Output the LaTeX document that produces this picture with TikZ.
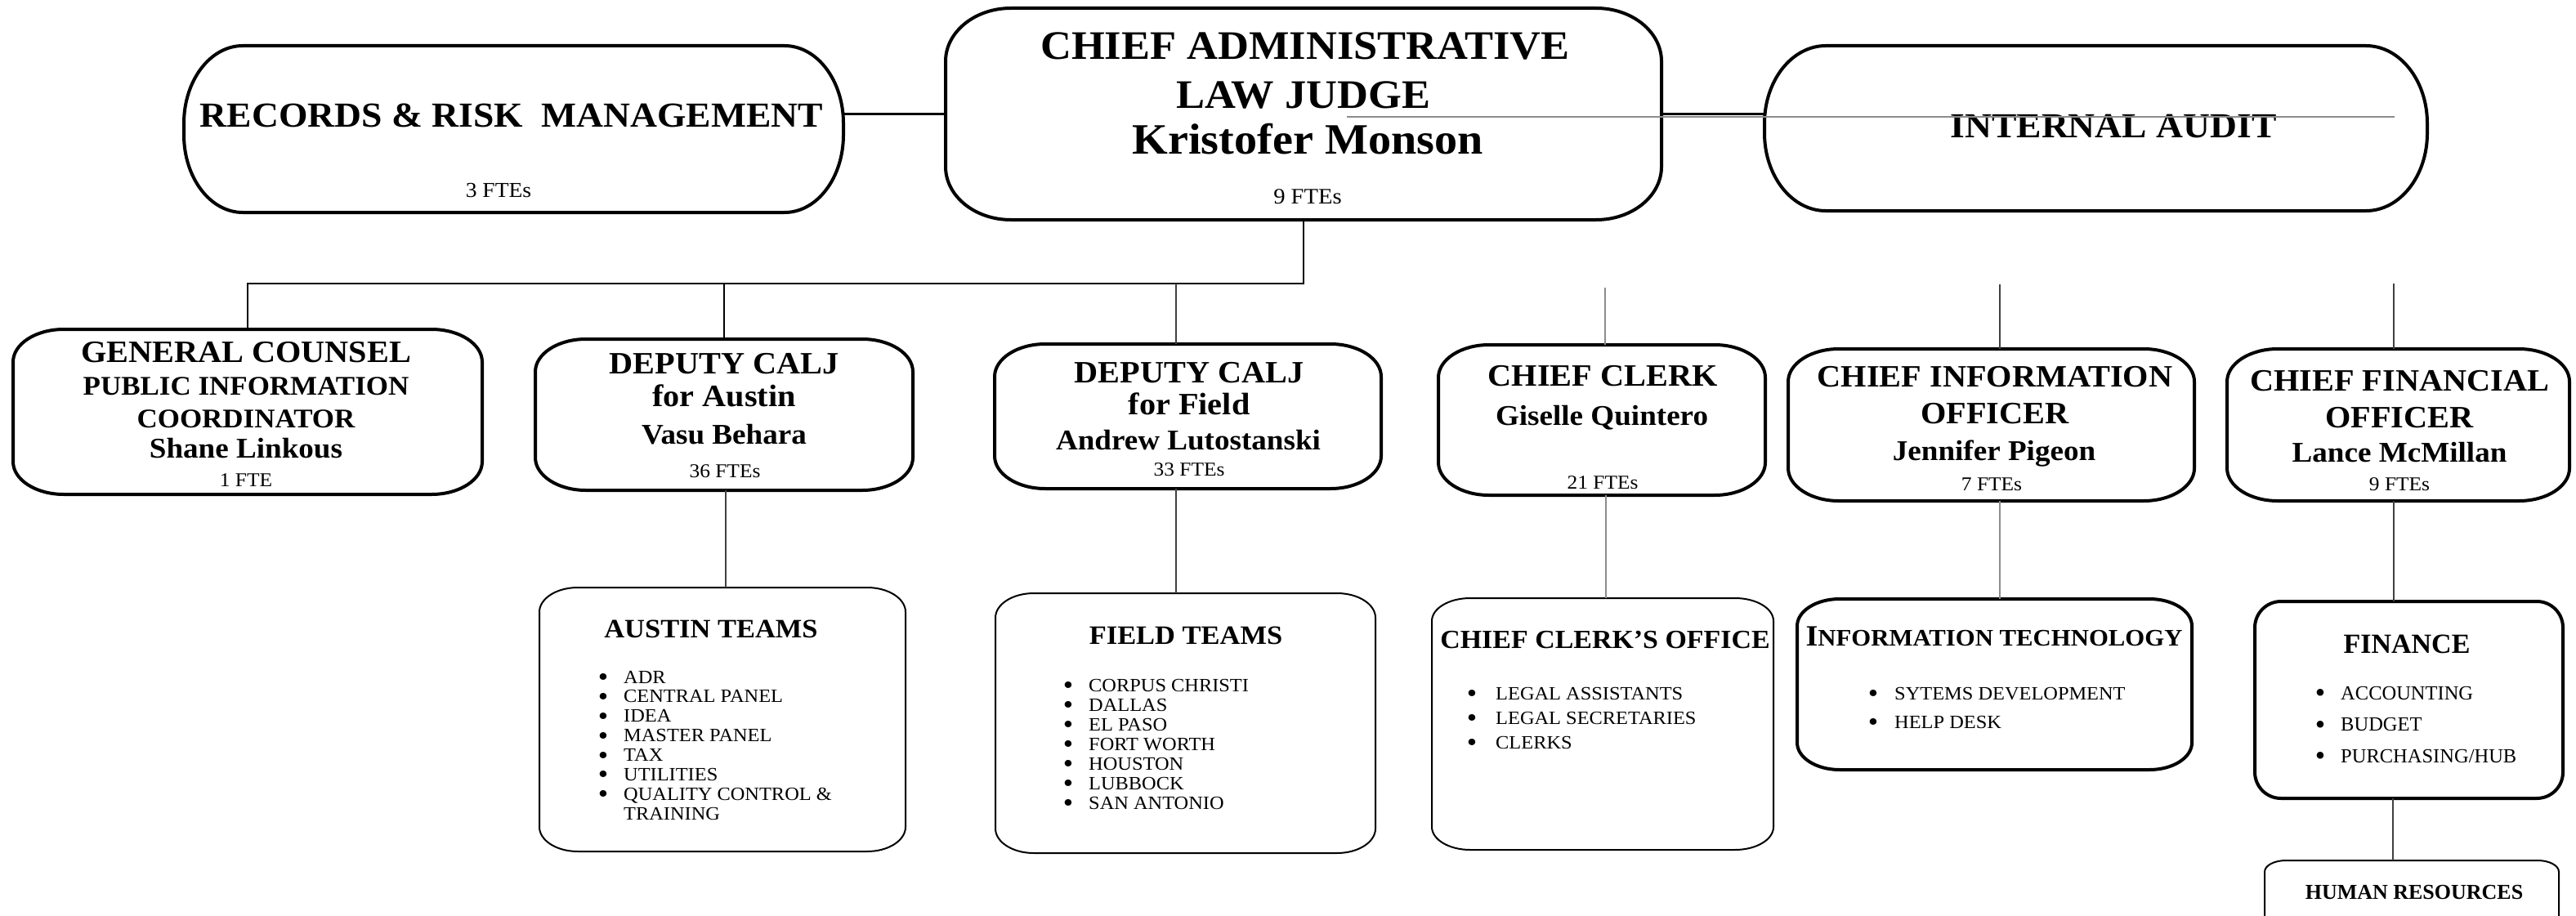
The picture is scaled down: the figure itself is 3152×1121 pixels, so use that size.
\documentclass[tikz,border=0pt]{standalone}
\usepackage{graphicx}
\usepackage{fontspec}
\setmainfont{Liberation Serif}[FakeStretch=1.06]
\newfontfamily\plainserif{Liberation Serif}
\newcommand\setfs[1]{\fontsize{#1}{#1}\selectfont}
% a slightly enlarged list bullet
\newcommand\bigdot{\raisebox{-0.15em}{\scalebox{1.45}{\textbullet}}}
% outline of a box with elliptical corners around an (invisible) node
\newcommand\boxoutline[4][]{%
  \draw[#1] ([xshift=#3pt]#2.north west) -- ([xshift=-#3pt]#2.north east)
    arc[start angle=90,end angle=0,x radius=#3pt,y radius=#4pt]
    -- ([yshift=#4pt]#2.south east)
    arc[start angle=0,end angle=-90,x radius=#3pt,y radius=#4pt]
    -- ([xshift=#3pt]#2.south west)
    arc[start angle=-90,end angle=-180,x radius=#3pt,y radius=#4pt]
    -- ([yshift=-#4pt]#2.north west)
    arc[start angle=180,end angle=90,x radius=#3pt,y radius=#4pt] -- cycle;}
\tikzset{
  box/.style={inner sep=0pt, outer sep=0pt, draw=none},
  heavy/.style={line width=4pt, black},
  light/.style={line width=2pt, black},
  tree/.style={line width=2.6pt, black},
  faint/.style={line width=1.2pt, black!75},
  hair/.style={line width=1.2pt, black!45},
  hd/.style={inner sep=0pt, anchor=base, font=\bfseries\setfs{#1}},
  rg/.style={inner sep=0pt, anchor=base, font=\setfs{#1}},
  item/.style={inner sep=0pt, anchor=base west, font=\setfs{#1},
    text height=0.68em, text depth=0.05em},
}
\begin{document}
\begin{tikzpicture}[x=1pt, y=-1pt]
\fill[white] (0,0) rectangle (3152,1121);
\clip (0,0) rectangle (3152,1121);

% ---------- top row ----------
\node[box, minimum width=807pt, minimum height=204pt] (rrm)  at (628.5,158) {};
\node[box, minimum width=876pt, minimum height=259pt] (calj) at (1595,139.5) {};
\node[box, minimum width=811pt, minimum height=202pt] (ia)   at (2564.5,157) {};
\boxoutline[heavy]{rrm}{72}{95}
\boxoutline[heavy]{calj}{80}{65}
\boxoutline[heavy]{ia}{75}{95}

\node[hd=43] (rrm-t) at (626,155) {RECORDS \& RISK\ \ MANAGEMENT};
\node[rg=26] (rrm-f) at (610,241) {3 FTEs};
\node[hd=49.5] (calj-t1) at (1597,73) {CHIEF ADMINISTRATIVE};
\node[hd=49.5] (calj-t2) at (1595,132) {LAW JUDGE};
\node[hd=53] (calj-t3) at (1600,188) {Kristofer Monson};
\node[rg=27] (calj-f) at (1600,249) {9 FTEs};
\node[hd=43] (ia-t) at (2586,168) {INTERNAL AUDIT};

\draw[tree] (rrm.east |- calj.west) -- (calj.west);
\draw[tree] (calj.east) -- (calj.east -| ia.west);
\coordinate (g1) at (1648,143);
\coordinate (g2) at (2930,143);
\draw[hair] (g1) -- (g2);

% ---------- second row ----------
\node[box, minimum width=574pt, minimum height=202pt] (gc)     at (303,504) {};
\node[box, minimum width=462pt, minimum height=185pt] (austin) at (886,507.5) {};
\node[box, minimum width=473pt, minimum height=177pt] (field)  at (1453.5,509.5) {};
\node[box, minimum width=400pt, minimum height=184pt] (clerk)  at (1960,514) {};
\node[box, minimum width=497pt, minimum height=186pt] (cio)    at (2436.5,520) {};
\node[box, minimum width=419pt, minimum height=186pt] (cfo)    at (2934.5,520) {};
\foreach \n in {gc,austin,field,clerk,cio,cfo} {\boxoutline[heavy]{\n}{62}{40}}

\node[hd=38] (gc-t1) at (301,443) {GENERAL COUNSEL};
\node[hd=33] (gc-t2) at (301,483) {PUBLIC INFORMATION};
\node[hd=33] (gc-t3) at (301,523) {COORDINATOR};
\node[hd=35] (gc-t4) at (301,560) {Shane Linkous};
\node[rg=24] (gc-f)  at (301,595) {1 FTE};

\node[hd=38] (au-t1) at (886,457) {DEPUTY CALJ};
\node[hd=38] (au-t2) at (886,497) {for Austin};
\node[hd=35] (au-t3) at (886,543) {Vasu Behara};
\node[rg=24] (au-f)  at (887,584) {36 FTEs};

\node[hd=38] (fi-t1) at (1455,468) {DEPUTY CALJ};
\node[hd=38] (fi-t2) at (1455,507) {for Field};
\node[hd=35] (fi-t3) at (1454,550) {Andrew Lutostanski};
\node[rg=24] (fi-f)  at (1455,582) {33 FTEs};

\node[hd=38] (cl-t1) at (1961,472) {CHIEF CLERK};
\node[hd=35] (cl-t2) at (1960,520) {Giselle Quintero};
\node[rg=24] (cl-f)  at (1961,598) {21 FTEs};

\node[hd=38] (ci-t1) at (2441,473) {CHIEF INFORMATION};
\node[hd=38] (ci-t2) at (2441,518) {OFFICER};
\node[hd=35] (ci-t3) at (2440,563) {Jennifer Pigeon};
\node[rg=24] (ci-f)  at (2437,600) {7 FTEs};

\node[hd=38] (cf-t1) at (2936,478) {CHIEF FINANCIAL};
\node[hd=38] (cf-t2) at (2936,523) {OFFICER};
\node[hd=35] (cf-t3) at (2936,565) {Lance McMillan};
\node[rg=24] (cf-f)  at (2936,600) {9 FTEs};

% reporting lines from the chief judge
\coordinate (bus) at (0,347);
\draw[tree] (calj.south) -- (calj.south |- bus) -| (gc.north);
\draw[tree] (austin.north |- bus) -- (austin.north);
\coordinate (xf) at (1439,347);
\draw[faint] (xf) -- (xf |- field.north);
\coordinate (xc) at (1964,352);
\draw[hair] (xc) -- (xc |- clerk.north);
\coordinate (xi) at (2447,348);
\draw[faint] (xi) -- (xi |- cio.north);
\coordinate (xo) at (2929,347);
\draw[faint] (xo) -- (xo |- cfo.north);

% ---------- third row ----------
\node[box, minimum width=448pt, minimum height=323pt] (ateams)  at (884,880.5) {};
\node[box, minimum width=465pt, minimum height=318pt] (fteams)  at (1450.5,885) {};
\node[box, minimum width=418pt, minimum height=308pt] (coffice) at (1961,886) {};
\node[box, minimum width=483pt, minimum height=209pt] (itech)   at (2440.5,837.5) {};
\node[box, minimum width=377pt, minimum height=241pt] (fin)     at (2947.5,856.5) {};
\node[box, minimum width=360pt, minimum height=84pt]  (hr)      at (2951,1095) {};
\boxoutline[light]{ateams}{47}{30}
\boxoutline[light]{fteams}{47}{30}
\boxoutline[light]{coffice}{47}{28}
\boxoutline[heavy]{itech}{52}{33}
\boxoutline[heavy]{fin}{32}{32}
\boxoutline[light]{hr}{26}{14}

\node[hd=32.5] (at-t) at (870,780) {AUSTIN TEAMS};
\foreach \t [count=\i from 0] in {ADR,CENTRAL PANEL,IDEA,MASTER PANEL,TAX,UTILITIES,QUALITY CONTROL \&}
  \node[item=23] (at-i\i) at (763,836+23.9*\i) {\llap{\bigdot\hspace{19pt}}\t};
\node[item=23] (at-i7) at (763,1003) {TRAINING};

\node[hd=32.5] (ft-t) at (1451,788) {FIELD TEAMS};
\foreach \t [count=\i from 0] in {CORPUS CHRISTI,DALLAS,EL PASO,FORT WORTH,HOUSTON,LUBBOCK,SAN ANTONIO}
  \node[item=23] (ft-i\i) at (1332,846+24*\i) {\llap{\bigdot\hspace{19pt}}\t};

\node[hd=32] (co-t) at (1964,793) {CHIEF CLERK’S OFFICE};
\foreach \t [count=\i from 0] in {LEGAL ASSISTANTS,LEGAL SECRETARIES,CLERKS}
  \node[item=23] (co-i\i) at (1830,856+30*\i) {\llap{\bigdot\hspace{23pt}}\t};

\node[inner sep=0pt, anchor=base, font=\bfseries] (it-t) at (2440,790)
  {{\setfs{36}I}{\setfs{29}NFORMATION TECHNOLOGY}};
\foreach \t [count=\i from 0] in {SYTEMS DEVELOPMENT,HELP DESK}
  \node[item=23] (it-i\i) at (2318,856+35*\i) {\llap{\bigdot\hspace{20pt}}\t};

\node[inner sep=0pt, anchor=base, font=\plainserif\bfseries\setfs{34}] (fin-t) at (2945,799) {FINANCE};
\foreach \t [count=\i from 0] in {ACCOUNTING,BUDGET,PURCHASING/HUB}
  \node[inner sep=0pt, anchor=base west, font=\plainserif\setfs{24.5}] (fin-i\i) at (2864,856+38.5*\i) {\llap{\bigdot\hspace{19pt}}\t};

\node[inner sep=0pt, anchor=base, font=\plainserif\bfseries\setfs{26}] (hr-t) at (2954,1100) {HUMAN RESOURCES};

% lines from the second row to the units below
\coordinate (xa) at (888,0);
\draw[faint] (xa |- austin.south) -- (xa |- ateams.north);
\draw[faint] (xf |- field.south) -- (xf |- fteams.north);
\coordinate (xc2) at (1965,0);
\draw[hair] (xc2 |- clerk.south) -- (xc2 |- coffice.north);
\draw[hair] (xi |- cio.south) -- (xi |- itech.north);
\draw[faint] (xo |- cfo.south) -- (xo |- fin.north);
\coordinate (xh) at (2928,0);
\draw[faint] (xh |- fin.south) -- (xh |- hr.north);
\end{tikzpicture}
\end{document}
